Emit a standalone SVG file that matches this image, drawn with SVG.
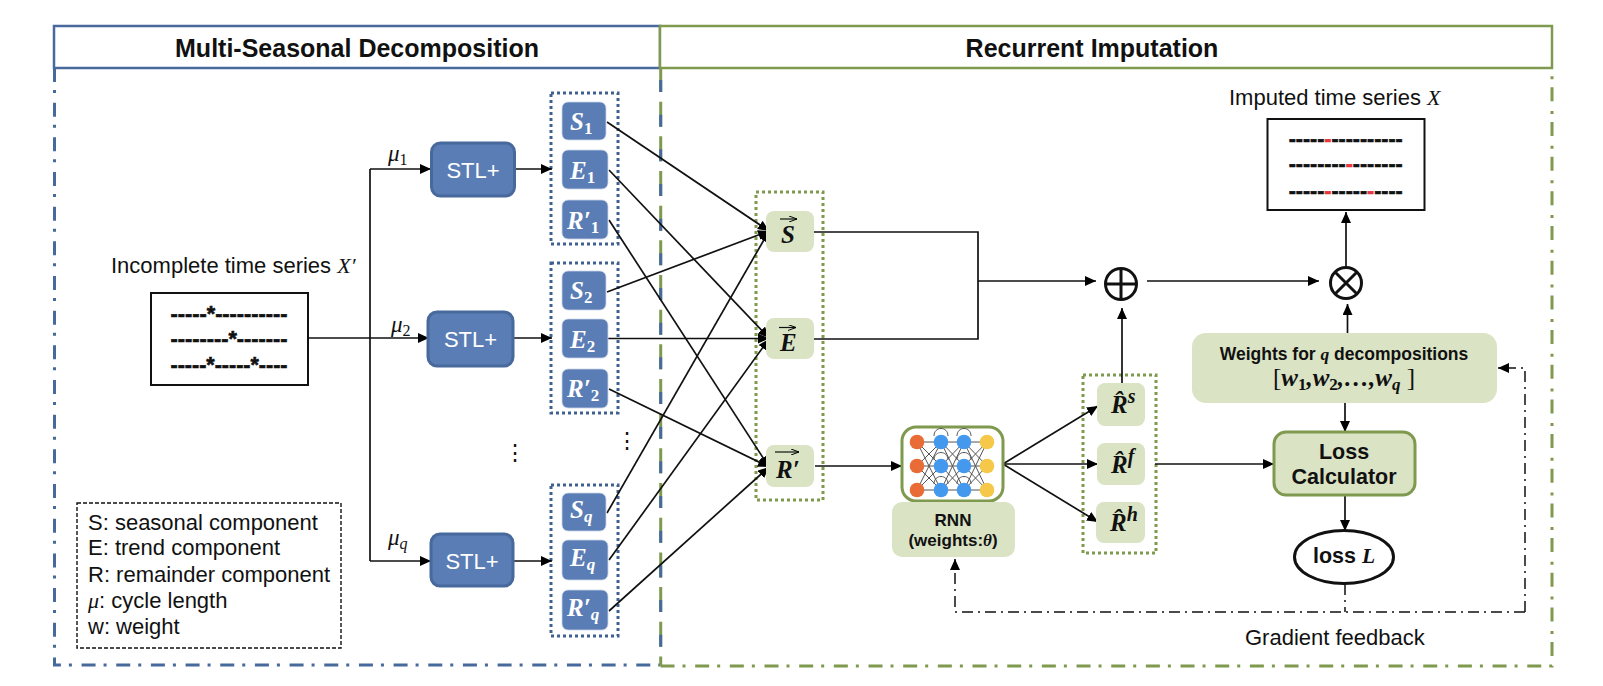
<svg xmlns="http://www.w3.org/2000/svg" width="1603" height="686" viewBox="0 0 1603 686">
<defs>
<marker id="arr" markerUnits="userSpaceOnUse" markerWidth="12" markerHeight="10" refX="11" refY="5" orient="auto"><path d="M0 0L11 5L0 10Z" fill="#000"/></marker>
<marker id="arrs" markerUnits="userSpaceOnUse" markerWidth="8" markerHeight="6" refX="8" refY="3" orient="auto"><path d="M0 0L8 3L0 6" fill="none" stroke="#000" stroke-width="1"/></marker>
</defs>
<style>
text{font-family:"Liberation Sans",Arial,sans-serif;fill:#111}
.sans{font-size:22px}
.m{text-anchor:middle}
.b{font-weight:700}
.math{font-family:"Liberation Serif","Times New Roman",serif;font-style:italic}
.mb{font-family:"Liberation Serif","Times New Roman",serif;font-style:italic;font-weight:700;font-size:25px}
.w{fill:#fff}
.sub{font-size:17px;font-style:normal}
.subi{font-size:17px}
.sup{font-size:20px}
.up{font-style:normal;font-weight:400}
.stl{fill:#5B7DB5;stroke:#47699b;stroke-width:3}
.sb{fill:#5B7DB5;stroke:#c9d5e8;stroke-width:.8}
.gb{fill:#DAE3C4}
.gs{fill:#DAE3C4;stroke:#7F9A4E;stroke-width:3}
.dotb{fill:none;stroke:#3F6190;stroke-width:3;stroke-dasharray:3 3}
.dotg{fill:none;stroke:#7F9A4E;stroke-width:3;stroke-dasharray:3 3}
.c{fill:none;stroke:#111;stroke-width:1.7}
.a{marker-end:url(#arr)}
.dd{fill:none;stroke:#111;stroke-width:1.5;stroke-dasharray:11 5 2 5}
.box{fill:#fff;stroke:#111;stroke-width:2}
.dash{font-size:21.5px;font-weight:700;stroke:#111;stroke-width:.6}
.red{fill:#E8353A;stroke:#E8353A}
.net{fill:none;stroke:#555;stroke-width:1}
.vec{fill:none;stroke:#111;stroke-width:1.2;marker-end:url(#arrs)}
</style>

<g id="panel-left">
<path d="M54.5 68V665H660" fill="none" stroke="#47699b" stroke-width="3" stroke-dasharray="14 8 3 9.67"/>
<rect x="54" y="26" width="606" height="42" fill="#fff" stroke="#47699b" stroke-width="2.5"/>
<text class="b m" x="357" y="57" font-size="25">Multi-Seasonal Decomposition</text>
</g>
<g id="panel-right">
<path d="M660.5 666H1552V68" fill="none" stroke="#7F9A4E" stroke-width="3" stroke-dasharray="14 8 3 9.67"/>
<line x1="660.7" y1="68" x2="660.7" y2="666" stroke="#7F9A4E" stroke-width="3" stroke-dasharray="25 9.67" stroke-dashoffset="1"/>
<line x1="660.7" y1="68" x2="660.7" y2="666" stroke="#47699b" stroke-width="3" stroke-dasharray="12 22.67" stroke-dashoffset="22.67"/>
<rect x="660" y="26" width="892" height="42" fill="#fff" stroke="#7F9A4E" stroke-width="2.5"/>
<text class="b m" x="1092" y="57" font-size="25">Recurrent Imputation</text>
</g>

<g id="groups">
<rect class="dotb" x="551" y="93" width="67" height="151"/>
<rect class="dotb" x="551" y="263" width="67" height="150"/>
<rect class="dotb" x="551" y="485" width="67" height="151"/>
<rect class="dotg" x="756" y="192" width="67" height="308"/>
<rect class="dotg" x="1083" y="375" width="73" height="178"/>
</g>

<g id="connectors">
<path class="c" d="M308 338H370"/>
<path class="c" d="M370 561V169"/>
<path class="c a" d="M370 169H431"/>
<path class="c a" d="M370 338H429"/>
<path class="c a" d="M370 561H431"/>
<path class="c a" d="M514 169H552"/>
<path class="c a" d="M513 338H552"/>
<path class="c a" d="M513 561H552"/>
<path class="c a" d="M607 122L769 231"/>
<path class="c a" d="M609 170L769 338"/>
<path class="c a" d="M609 220L769 467"/>
<path class="c a" d="M607 292L769 231"/>
<path class="c a" d="M608 338.5H769"/>
<path class="c a" d="M609 389L769 467"/>
<path class="c a" d="M607 513L769 231"/>
<path class="c a" d="M609 560L769 339"/>
<path class="c a" d="M609 611L769 467"/>
<path class="c" d="M814 232H978V339H814"/>
<path class="c a" d="M978 281H1096"/>
<path class="c a" d="M1147 281H1319"/>
<path class="c a" d="M1122 383V308"/>
<path class="c a" d="M1346 266V212"/>
<path class="c a" d="M1347.500 333V304"/>
<path class="c a" d="M815 466H902"/>
<path class="c a" d="M1003 464L1098 406"/>
<path class="c a" d="M1003 464H1098"/>
<path class="c a" d="M1003 464L1098 522"/>
<path class="c a" d="M1155 464H1274"/>
<path class="c a" d="M1345 403V432"/>
<path class="c a" d="M1345 495V531"/>
<path class="dd" d="M1345 584V612"/>
<path class="dd a" d="M1525 612H955V559"/>
<path class="dd a" d="M1525 612V368H1498"/>
</g>

<g id="input">
<text class="sans" x="111" y="273">Incomplete time series <tspan class="math">X′</tspan></text>
<rect class="box" x="151" y="293" width="157" height="92"/>
<text class="dash" x="170.500" y="321" textLength="117" lengthAdjust="spacingAndGlyphs">-----*----------</text>
<text class="dash" x="170.500" y="346" textLength="117" lengthAdjust="spacingAndGlyphs">--------*-------</text>
<text class="dash" x="170.500" y="372" textLength="117" lengthAdjust="spacingAndGlyphs">-----*-----*----</text>
</g>

<g id="mu-labels">
<text class="math" x="388" y="161" font-size="23">μ<tspan font-size="16" font-style="normal" dy="4">1</tspan></text>
<text class="math" x="391" y="332" font-size="23">μ<tspan font-size="16" font-style="normal" dy="4">2</tspan></text>
<text class="math" x="388" y="545" font-size="23">μ<tspan font-size="16" dy="4">q</tspan></text>
</g>

<g id="stl-1"><rect class="stl" x="431.500" y="143" width="83" height="53" rx="9"/><text class="sans w m" x="473" y="178">STL+</text></g>
<g id="stl-2"><rect class="stl" x="428" y="312" width="85" height="54" rx="9"/><text class="sans w m" x="470.500" y="347">STL+</text></g>
<g id="stl-q"><rect class="stl" x="431" y="534" width="82" height="52" rx="9"/><text class="sans w m" x="472" y="569">STL+</text></g>

<g id="s1"><rect class="sb" x="562" y="102" width="44" height="38" rx="6"/><text class="mb w" x="570" y="130">S<tspan class="sub" dy="4">1</tspan></text></g>
<g id="e1"><rect class="sb" x="562" y="150" width="46" height="39" rx="6"/><text class="mb w" x="570" y="179">E<tspan class="sub" dy="4">1</tspan></text></g>
<g id="r1"><rect class="sb" x="562" y="200" width="46" height="39" rx="6"/><text class="mb w" x="567" y="229">R′<tspan class="sub" dy="4">1</tspan></text></g>
<g id="s2"><rect class="sb" x="562" y="271" width="44" height="39" rx="6"/><text class="mb w" x="570" y="299">S<tspan class="sub" dy="4">2</tspan></text></g>
<g id="e2"><rect class="sb" x="562" y="319" width="46" height="39" rx="6"/><text class="mb w" x="570" y="348">E<tspan class="sub" dy="4">2</tspan></text></g>
<g id="r2"><rect class="sb" x="562" y="369" width="46" height="39" rx="6"/><text class="mb w" x="567" y="397">R′<tspan class="sub" dy="4">2</tspan></text></g>
<g id="sq"><rect class="sb" x="562" y="493" width="44" height="38" rx="6"/><text class="mb w" x="570" y="518">S<tspan class="subi" dy="4">q</tspan></text></g>
<g id="eq"><rect class="sb" x="562" y="540" width="46" height="40" rx="6"/><text class="mb w" x="570" y="566">E<tspan class="subi" dy="4">q</tspan></text></g>
<g id="rq"><rect class="sb" x="562" y="590" width="46" height="40" rx="6"/><text class="mb w" x="567" y="616">R′<tspan class="subi" dy="4">q</tspan></text></g>

<g id="ellipsis">
<text x="515" y="460" font-size="22" font-family="DejaVu Sans" class="m">⋮</text>
<text x="627" y="448" font-size="22" font-family="DejaVu Sans" class="m">⋮</text>
</g>

<g id="vec-s"><rect class="gb" x="766" y="211" width="48" height="41" rx="8"/><text class="mb" x="781" y="243">S</text><path class="vec" d="M780 219H797"/></g>
<g id="vec-e"><rect class="gb" x="766" y="318" width="48" height="41" rx="8"/><text class="mb" x="780" y="351">E</text><path class="vec" d="M779 327.500H796"/></g>
<g id="vec-r"><rect class="gb" x="766" y="445" width="48" height="42" rx="8"/><text class="mb" x="776" y="478">R′</text><path class="vec" d="M775 452H799"/></g>

<g id="plus"><circle cx="1121" cy="284" r="15.500" fill="#fff" stroke="#111" stroke-width="3"/><path d="M1105.500 284H1136.500M1121 268.500V299.500" stroke="#111" stroke-width="3"/></g>
<g id="times"><circle cx="1346" cy="283" r="15.500" fill="#fff" stroke="#111" stroke-width="3"/><path d="M1335 272L1357 294M1357 272L1335 294" stroke="#111" stroke-width="3"/></g>

<g id="output">
<text class="sans" x="1229" y="105">Imputed time series <tspan class="math">X</tspan></text>
<rect class="box" x="1267.500" y="119" width="157" height="91"/>
<text class="dash" x="1288.700" y="146" textLength="114" lengthAdjust="spacingAndGlyphs">-----<tspan class="red">-</tspan>----------</text>
<text class="dash" x="1288.700" y="171" textLength="114" lengthAdjust="spacingAndGlyphs">--------<tspan class="red">-</tspan>-------</text>
<text class="dash" x="1288.700" y="198" textLength="114" lengthAdjust="spacingAndGlyphs">-----<tspan class="red">-</tspan>-----<tspan class="red">-</tspan>----</text>
</g>

<g id="weights">
<rect class="gb" x="1192" y="333" width="305" height="70" rx="14"/>
<text class="b m" x="1344" y="360" font-size="17.500">Weights for <tspan class="math">q</tspan> decompositions</text>
<text class="mb m" x="1344" y="386"><tspan class="up">[</tspan>w<tspan class="sub" dy="4">1</tspan><tspan dy="-4">,w</tspan><tspan class="sub" dy="4">2</tspan><tspan dy="-4">,…,w</tspan><tspan class="subi" dy="4">q</tspan><tspan dy="-4" class="up"> ]</tspan></text>
</g>

<g id="rnn">
<rect x="902" y="427" width="101" height="74" rx="14" fill="#fff" stroke="#7F9A4E" stroke-width="3"/>
<path class="net" d="M917 442H987M917 466H987M917 490H987M917 442L941 466M917 442L941 490M917 466L941 442M917 466L941 490M917 490L941 442M917 490L941 466M941 442L964 466M941 442L964 490M941 466L964 442M941 466L964 490M941 490L964 442M941 490L964 466M964 442L987 466M964 442L987 490M964 466L987 442M964 466L987 490M964 490L987 442M964 490L987 466M934 436C934 426 948 426 948 436M957 436C957 426 971 426 971 436M934 460C934 450 948 450 948 460M957 460C957 450 971 450 971 460M934 484C934 474 948 474 948 484M957 484C957 474 971 474 971 484"/>
<g fill="#E96B35"><circle cx="917" cy="442" r="7.300"/><circle cx="917" cy="466" r="7.300"/><circle cx="917" cy="490" r="7.300"/></g>
<g fill="#4499EE"><circle cx="941" cy="442" r="7.300"/><circle cx="941" cy="466" r="7.300"/><circle cx="941" cy="490" r="7.300"/><circle cx="964" cy="442" r="7.300"/><circle cx="964" cy="466" r="7.300"/><circle cx="964" cy="490" r="7.300"/></g>
<g fill="#F5C84A"><circle cx="987" cy="442" r="7.300"/><circle cx="987" cy="466" r="7.300"/><circle cx="987" cy="490" r="7.300"/></g>
</g>
<g id="rnn-label">
<rect class="gb" x="892" y="502" width="123" height="55" rx="10"/>
<text class="b m" x="953" y="526" font-size="17">RNN</text>
<text class="b m" x="953" y="546" font-size="17">(weights:<tspan class="math">θ</tspan>)</text>
</g>

<g id="rs"><rect class="gb" x="1097" y="383" width="48" height="43" rx="8"/><text class="mb" x="1111" y="413">R&#x302;<tspan class="sup" dy="-10">s</tspan></text></g>
<g id="rf"><rect class="gb" x="1097" y="443" width="48" height="42" rx="8"/><text class="mb" x="1111" y="473">R&#x302;<tspan class="sup" dy="-10">f</tspan></text></g>
<g id="rh"><rect class="gb" x="1096" y="502" width="49" height="41" rx="8"/><text class="mb" x="1110" y="531">R&#x302;<tspan class="sup" dy="-10">h</tspan></text></g>

<g id="loss-calc">
<rect class="gs" x="1274" y="432" width="141" height="63" rx="12"/>
<text class="b m" x="1344" y="459" font-size="21.500">Loss</text>
<text class="b m" x="1344" y="484" font-size="21.500">Calculator</text>
</g>
<g id="loss">
<ellipse cx="1344" cy="557" rx="49.500" ry="26.500" fill="#fff" stroke="#111" stroke-width="3"/>
<text class="b m" x="1344" y="563" font-size="21.500">loss <tspan class="math">L</tspan></text>
</g>
<text id="gradient-label" class="sans" x="1245" y="645">Gradient feedback</text>

<g id="legend">
<rect x="77" y="503" width="264" height="145" fill="#fff" stroke="#111" stroke-width="1.400" stroke-dasharray="4 2"/>
<text class="sans" x="88" y="530">S: seasonal component</text>
<text class="sans" x="88" y="555">E: trend component</text>
<text class="sans" x="88" y="582">R: remainder component</text>
<text class="sans" x="88" y="608"><tspan class="math">μ</tspan>: cycle length</text>
<text class="sans" x="88" y="634">w: weight</text>
</g>
</svg>
